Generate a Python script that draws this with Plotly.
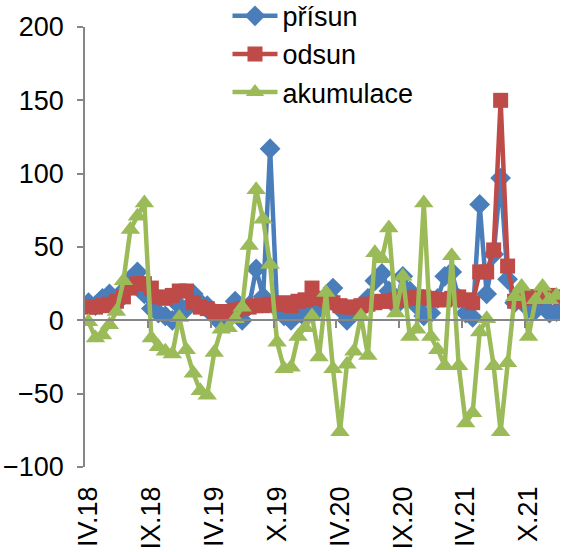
import plotly.graph_objects as go

# ---- data ----
label_text = ["IV.18", "IX.18", "IV.19", "X.19", "IV.20", "IX.20", "IV.21", "X.21"]
label_index = [0, 9, 18, 27, 36, 45, 54, 63]

prisun = [12, 10, 15, 18, 12, 20, 28, 33, 18, 8,
          5, 3, 0, 10, 8, 18, 12, 10, 3, -2,
          5, 13, 0, 10, 35, 16, 117, 8, 3, 0,
          5, 2, 8, 8, 15, 22, 8, 0, 5, 8,
          15, 27, 32, 20, 10, 30, 20, 10, 3, 5,
          15, 30, 33, 15, 5, 2, 79, 18, 45, 97,
          28, 12, 15, 8, 7, 10, 5, 6]

odsun = [9, 9, 10, 11, 13, 16, 22, 25, 25, 22,
         16, 15, 17, 20, 20, 12, 9, 8, 6, 6,
         5, 7, 8, 9, 10, 10, 11, 11, 12, 10,
         13, 14, 22, 15, 14, 12, 10, 9, 9, 10,
         11, 12, 13, 13, 14, 14, 15, 16, 16, 15,
         14, 14, 15, 16, 14, 12, 33, 33, 48, 150,
         37, 13, 15, 16, 16, 17, 17, 16]

akumulace = [-1, -12, -10, -3, 6, 27, 62, 71, 80, -12,
             -18, -21, -23, 2, -20, -36, -48, -51, -22, -6,
             -5, 1, 9, 51, 89, 69, 38, -15, -33, -32,
             -11, -5, 3, -25, 19, -33, -76, -30, -21, 3,
             -24, 46, 42, 63, 5, 30, -11, -6, 80, -11,
             -20, -31, 44, -31, -70, -63, -8, 1, -31, -76,
             -29, 16, 23, -11, 14, 23, 14, 17]

categories = list(range(len(prisun)))
boundary_ticks = [i - 0.5 for i in label_index[1:]]

BLUE = "#4A7EBB"
RED = "#BE4B48"
GREEN = "#9BBB59"
AXIS = "#868686"
FONT = "Liberation Sans, Arial, sans-serif"

fig = go.Figure()
fig.add_trace(go.Scatter(
    x=categories, y=prisun, name="přísun", mode="lines+markers",
    line=dict(color=BLUE, width=4.5),
    marker=dict(symbol="diamond", size=16, color=BLUE)))
fig.add_trace(go.Scatter(
    x=categories, y=odsun, name="odsun", mode="lines+markers",
    line=dict(color=RED, width=4.5),
    marker=dict(symbol="square", size=15, color=RED)))
fig.add_trace(go.Scatter(
    x=categories, y=akumulace, name="akumulace", mode="lines+markers",
    line=dict(color=GREEN, width=4.5),
    marker=dict(symbol="triangle-up", size=17, color=GREEN)))
# empty trace carrying the axis drawn at y = 0
fig.add_trace(go.Scatter(
    x=categories, y=[None] * len(categories), xaxis="x2",
    showlegend=False, hoverinfo="skip", mode="lines"))

fig.update_layout(
    width=564, height=552,
    margin=dict(l=85, r=4, t=27, b=85, autoexpand=False),
    paper_bgcolor="white", plot_bgcolor="white",
    font=dict(family=FONT, size=27, color="black"),
    showlegend=True,
    legend=dict(x=0.30, y=1.08, xanchor="left", yanchor="top",
                bgcolor="rgba(0,0,0,0)", font=dict(size=27),
                itemwidth=45, tracegroupgap=0),
    xaxis=dict(range=[-0.5, len(categories) - 0.5],
               tickmode="array", tickvals=label_index, ticktext=label_text,
               tickangle=-90, showline=False, ticks="", showgrid=False,
               zeroline=False, ticklabelstandoff=13, automargin=False),
    xaxis2=dict(overlaying="x", matches="x", anchor="free", position=1 / 3,
                showline=True, linecolor=AXIS, linewidth=1.5,
                ticks="outside", ticklen=7, tickcolor=AXIS, tickwidth=1.5,
                tickmode="array", tickvals=boundary_ticks,
                showticklabels=False, showgrid=False, zeroline=False),
    yaxis=dict(range=[-100, 200], dtick=50, showline=True, linecolor=AXIS,
               linewidth=1.5, ticks="outside", ticklen=6, tickcolor=AXIS,
               tickwidth=1.5, showgrid=False, zeroline=False,
               ticklabelstandoff=8, automargin=False),
)

fig.write_html("out.html")
